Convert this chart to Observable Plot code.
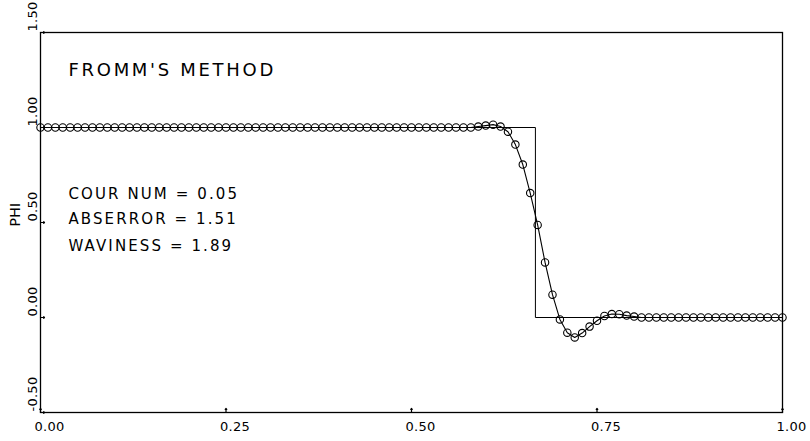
<!DOCTYPE html>
<html>
<head>
<meta charset="utf-8">
<script src="https://cdn.jsdelivr.net/npm/d3@7"></script>
<script src="https://cdn.jsdelivr.net/npm/@observablehq/plot@0.6"></script>
<style>
  html, body { margin: 0; padding: 0; background: #fff; }
  svg text { letter-spacing: 0.02em; }
</style>
</head>
<body>
<div id="chart"></div>
<script>
// Numerical solution (Fromm's method), grid step 0.01 from x = 0 to 1
const gridStep = 0.01;
const phiNumeric = [
  1.0, 1.0, 1.0, 1.0, 1.0, 1.0, 1.0, 1.0, 1.0, 1.0,
  1.0, 1.0, 1.0, 1.0, 1.0, 1.0, 1.0, 1.0, 1.0, 1.0,
  1.0, 1.0, 1.0, 1.0, 1.0, 1.0, 1.0, 1.0, 1.0, 1.0,
  1.0, 1.0, 1.0, 1.0, 1.0, 1.0, 1.0, 1.0, 1.0, 1.0,
  1.0, 1.0, 1.0, 1.0, 1.0, 1.0, 1.0, 1.0, 1.0, 1.0,
  1.0, 1.0, 1.0, 1.0, 1.0, 1.0, 1.0, 1.0, 1.0, 1.005,
  1.01, 1.015, 1.005, 0.978, 0.91, 0.805, 0.655, 0.487, 0.29, 0.12,
  -0.01, -0.08, -0.105, -0.082, -0.048, -0.017, 0.008, 0.018, 0.017, 0.01,
  0.005, 0.0, 0.0, 0.0, 0.0, 0.0, 0.0, 0.0, 0.0, 0.0,
  0.0, 0.0, 0.0, 0.0, 0.0, 0.0, 0.0, 0.0, 0.0, 0.0,
  0.0
];
// Exact solution (step)
const exactX = [0, 0.667, 0.667, 1];
const exactY = [1, 1, 0, 0];

const xTicks = [0, 0.25, 0.5, 0.75, 1];
const xTickLabels = ["0.00", "0.25", "0.50", "0.75", "1.00"];
const yTicks = [-0.5, 0, 0.5, 1, 1.5];
const yTickLabels = ["-0.50", "0.00", "0.50", "1.00", "1.50"];

const titleText = "FROMM'S METHOD";
const statLines = ["COUR NUM = 0.05", "ABSERROR = 1.51", "WAVINESS = 1.89"];
const yLabel = "PHI";

const numeric = phiNumeric.map((v, i) => ({x: i * gridStep, y: v}));
const exact = exactX.map((x, i) => ({x, y: exactY[i]}));

const font = "'DejaVu Sans', sans-serif";

const chart = Plot.plot({
  width: 810,
  height: 441,
  marginLeft: 40,
  marginRight: 28,
  marginTop: 32,
  marginBottom: 29,
  style: {fontFamily: font, background: "#fff", color: "#000"},
  x: {domain: [0, 1], axis: null},
  y: {domain: [-0.5, 1.5], axis: null},
  marks: [
    Plot.frame({stroke: "#000", strokeWidth: 1.3}),
    // inward ticks
    Plot.vector(xTicks, {x: d => d, frameAnchor: "bottom", length: 4, rotate: 0, anchor: "start", stroke: "#000", strokeWidth: 1.2}),
    Plot.vector(yTicks, {y: d => d, frameAnchor: "left", length: 4, rotate: 90, anchor: "start", stroke: "#000", strokeWidth: 1.2}),
    // tick labels
    Plot.text(xTicks, {x: d => d, frameAnchor: "bottom", text: (d, i) => xTickLabels[i], lineAnchor: "top", dy: 9, dx: 9, fontSize: 13, fill: "#000"}),
    Plot.text(yTicks, {y: d => d, frameAnchor: "left", text: (d, i) => yTickLabels[i], rotate: -90, textAnchor: "start", dx: -8, dy: -1, fontSize: 13, fill: "#000"}),
    Plot.text([yLabel], {frameAnchor: "left", rotate: -90, dx: -25, dy: 4, fontSize: 14, fill: "#000"}),
    // exact solution
    Plot.line(exact, {x: "x", y: "y", stroke: "#000", strokeWidth: 1}),
    // numerical solution
    Plot.line(numeric, {x: "x", y: "y", stroke: "#000", strokeWidth: 1.1}),
    Plot.dot(numeric, {x: "x", y: "y", r: 3.7, stroke: "#000", strokeWidth: 1.1, fill: "none"}),
    // annotations
    Plot.text([titleText], {frameAnchor: "top-left", textAnchor: "start", dx: 28, dy: 31, fontSize: 18, fill: "#000"}),
    Plot.text([statLines[0]], {frameAnchor: "top-left", textAnchor: "start", dx: 28, dy: 156, fontSize: 15, fill: "#000"}),
    Plot.text([statLines[1]], {frameAnchor: "top-left", textAnchor: "start", dx: 28, dy: 181, fontSize: 15, fill: "#000"}),
    Plot.text([statLines[2]], {frameAnchor: "top-left", textAnchor: "start", dx: 28, dy: 208, fontSize: 15, fill: "#000"})
  ]
});
// wider plotter-style letter spacing for the annotations
const wide = new Set([titleText, ...statLines]);
d3.select(chart).selectAll("text").each(function() {
  if (wide.has(this.textContent)) {
    d3.select(this).style("letter-spacing", this.textContent === titleText ? "0.15em" : "0.14em");
  }
});
document.getElementById("chart").appendChild(chart);
</script>
</body>
</html>
